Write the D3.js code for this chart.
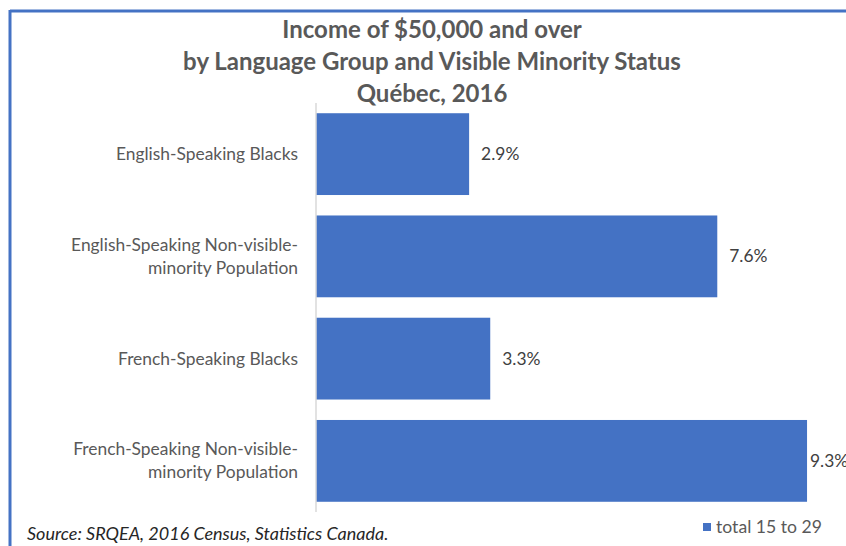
<!DOCTYPE html>
<html>
<head>
<meta charset="utf-8">
<script src="https://cdn.jsdelivr.net/npm/d3@7"></script>
<style>
  body { margin: 0; background: #fff; }
  svg text { font-family: Lato, "Open Sans", sans-serif; }
</style>
</head>
<body>
<svg id="chart" width="846" height="546"></svg>
<script>
// data
const categories = [
  ['English-Speaking Blacks'],
  ['English-Speaking Non-visible-', 'minority Population'],
  ['French-Speaking Blacks'],
  ['French-Speaking Non-visible-', 'minority Population'],
];
const values = [2.9, 7.6, 3.3, 9.3];
const titleLines = ['Income of $50,000 and over', 'by Language Group and Visible Minority Status', 'Québec, 2016'];
const seriesName = 'total 15 to 29';
const sourceNote = 'Source: SRQEA, 2016 Census, Statistics Canada.';

const width = 846, height = 546;
const margin = { top: 103, right: 2, bottom: 34, left: 316 };
const blue = '#4472C4';

const svg = d3.select('#chart');

// frame (top and left border of the screenshot)
svg.append('line').attr('x1', 10).attr('y1', 11).attr('x2', width).attr('y2', 11)
  .attr('stroke', blue).attr('stroke-width', 3);
svg.append('line').attr('x1', 10).attr('y1', 10).attr('x2', 10).attr('y2', height)
  .attr('stroke', blue).attr('stroke-width', 3);

const x = d3.scaleLinear().domain([0, 10]).range([margin.left, margin.left + 528]);
const y = d3.scaleBand()
  .domain(d3.range(values.length))
  .range([margin.top, height - margin.bottom])
  .paddingInner(0.2)
  .paddingOuter(0.1);

// title
svg.append('g').selectAll('text').data(titleLines).join('text')
  .attr('x', 432)
  .attr('y', (d, i) => 38 + i * 32)
  .attr('text-anchor', 'middle')
  .attr('font-size', 24)
  .attr('font-weight', 'bold')
  .attr('fill', '#595959')
  .text(d => d);

// bars
svg.append('g').selectAll('rect').data(values).join('rect')
  .attr('x', x(0))
  .attr('y', (d, i) => y(i))
  .attr('width', d => x(d) - x(0))
  .attr('height', y.bandwidth())
  .attr('fill', blue);

// axis line
const yAxis = d3.axisLeft(y).tickSize(0).tickFormat('');
svg.append('g').attr('transform', `translate(${margin.left},0)`).call(yAxis)
  .call(g => g.select('.domain').attr('stroke', '#d9d9d9').attr('stroke-width', 1.5)
    .attr('d', `M0,${margin.top}V${height - margin.bottom}`));

// category labels
const labels = svg.append('g').selectAll('text').data(categories).join('text')
  .attr('text-anchor', 'end')
  .attr('font-size', 17.4)
  .attr('fill', '#595959');
labels.each(function (lines, i) {
  const cy = y(i) + y.bandwidth() / 2;
  const t = d3.select(this);
  lines.forEach((line, j) => {
    t.append('tspan')
      .attr('x', 298)
      .attr('y', cy + 6 + (j - (lines.length - 1) / 2) * 23)
      .text(line);
  });
});

// value labels (pulled in near the right edge, like the original)
svg.append('g').selectAll('text').data(values).join('text')
  .attr('x', d => Math.min(x(d) + 12, 810))
  .attr('y', (d, i) => y(i) + y.bandwidth() / 2 + 6)
  .attr('font-size', 17.4)
  .attr('fill', '#404040')
  .text(d => d.toFixed(1) + '%');

// source note
svg.append('text')
  .attr('x', 27).attr('y', 540)
  .attr('font-size', 18)
  .attr('font-style', 'italic')
  .attr('fill', '#262626')
  .text(sourceNote);

// legend
svg.append('rect').attr('x', 703).attr('y', 523).attr('width', 8).attr('height', 8).attr('fill', blue);
svg.append('text').attr('x', 716).attr('y', 533)
  .attr('font-size', 17.6).attr('fill', '#595959')
  .text(seriesName);
</script>
</body>
</html>
